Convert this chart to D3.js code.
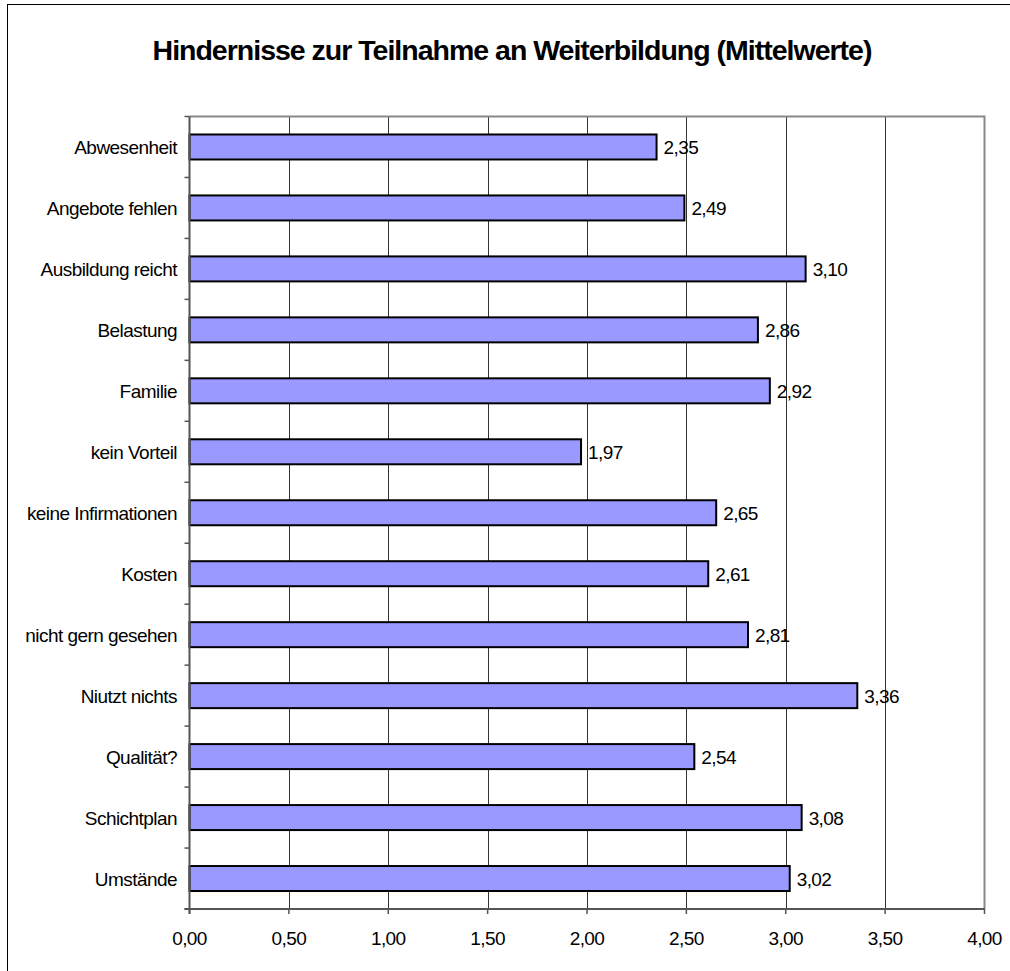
<!DOCTYPE html>
<html>
<head>
<meta charset="utf-8">
<script src="https://cdn.jsdelivr.net/npm/d3@7"></script>
<style>
  html, body { margin: 0; padding: 0; background: #fff; overflow: hidden; }
  svg { display: block; }
  svg text { font-family: Arial, "Liberation Sans", sans-serif; fill: #000; }
</style>
</head>
<body>
<div id="chart"></div>
<script>
const chartTitle = "Hindernisse zur Teilnahme an Weiterbildung (Mittelwerte)";
const categories = [
    "Abwesenheit", "Angebote fehlen", "Ausbildung reicht", "Belastung", "Familie",
    "kein Vorteil", "keine Infirmationen", "Kosten", "nicht gern gesehen",
    "Niutzt nichts", "Qualität?", "Schichtplan", "Umstände"
];
const values = [2.35, 2.49, 3.10, 2.86, 2.92, 1.97, 2.65, 2.61, 2.81, 3.36, 2.54, 3.08, 3.02];
const xTicks = [0, 0.5, 1, 1.5, 2, 2.5, 3, 3.5, 4];

const width = 1010;
const height = 971;
const plot = { left: 189.5, right: 984.5, top: 116.5, bottom: 909 };

const fmt = v => v.toFixed(2).replace('.', ',');

const svg = d3.select('#chart').append('svg')
    .attr('width', width)
    .attr('height', height);

// outer chart frame (cut off at right and bottom like the original)
svg.append('rect')
    .attr('x', 7.5).attr('y', 4.5)
    .attr('width', width + 20).attr('height', height + 20)
    .attr('fill', '#fff')
    .attr('stroke', '#000')
    .attr('stroke-width', 1);

svg.append('text')
    .attr('x', 512)
    .attr('y', 60)
    .attr('text-anchor', 'middle')
    .style('font-size', '28.5px')
    .style('font-weight', 'bold')
    .style('letter-spacing', '-1px')
    .text(chartTitle);

const x = d3.scaleLinear()
    .domain([0, 4])
    .range([plot.left, plot.right]);

const y = d3.scaleBand()
    .domain(categories)
    .range([plot.top, plot.bottom])
    .paddingInner(0.59)
    .paddingOuter(0.295);

// vertical gridlines
svg.append('g')
    .selectAll('line')
    .data(xTicks.slice(1, -1))
    .enter().append('line')
    .attr('x1', d => Math.round(x(d)) + 0.5)
    .attr('x2', d => Math.round(x(d)) + 0.5)
    .attr('y1', plot.top)
    .attr('y2', plot.bottom)
    .attr('stroke', '#333')
    .attr('stroke-width', 1);

// plot border top/right
svg.append('path')
    .attr('d', `M${plot.left},${plot.top}H${plot.right}V${plot.bottom}`)
    .attr('fill', 'none')
    .attr('stroke', '#888')
    .attr('stroke-width', 2);

// bars
svg.append('g')
    .selectAll('rect')
    .data(categories)
    .enter().append('rect')
    .attr('x', x(0))
    .attr('y', d => y(d))
    .attr('width', (d, i) => x(values[i]) - x(0))
    .attr('height', y.bandwidth())
    .attr('fill', '#9999ff')
    .attr('stroke', '#000')
    .attr('stroke-width', 2);

// value labels
svg.append('g')
    .selectAll('text')
    .data(categories)
    .enter().append('text')
    .attr('x', (d, i) => x(values[i]) + 7)
    .attr('y', d => y(d) + y.bandwidth() / 2 + 7)
    .style('font-size', '19px')
    .style('letter-spacing', '-0.6px')
    .text((d, i) => fmt(values[i]));

// left axis
const step = y.step();
const yAxis = svg.append('g');
yAxis.append('line')
    .attr('x1', plot.left).attr('x2', plot.left)
    .attr('y1', plot.top).attr('y2', plot.bottom + 5)
    .attr('stroke', '#555').attr('stroke-width', 2);
yAxis.selectAll('.ytick')
    .data(d3.range(categories.length + 1))
    .enter().append('line')
    .attr('class', 'ytick')
    .attr('x1', plot.left - 5).attr('x2', plot.left)
    .attr('y1', i => plot.top + i * step)
    .attr('y2', i => plot.top + i * step)
    .attr('stroke', '#555').attr('stroke-width', 1.5);
yAxis.selectAll('text')
    .data(categories)
    .enter().append('text')
    .attr('x', 177)
    .attr('y', d => y(d) + y.bandwidth() / 2 + 7)
    .attr('text-anchor', 'end')
    .style('font-size', '19px')
    .style('letter-spacing', '-0.55px')
    .text(d => d);

// bottom axis
const xAxis = svg.append('g');
xAxis.append('line')
    .attr('x1', plot.left - 5).attr('x2', plot.right)
    .attr('y1', plot.bottom).attr('y2', plot.bottom)
    .attr('stroke', '#555').attr('stroke-width', 2);
xAxis.selectAll('.xtick')
    .data(xTicks)
    .enter().append('line')
    .attr('class', 'xtick')
    .attr('x1', d => x(d)).attr('x2', d => x(d))
    .attr('y1', plot.bottom).attr('y2', plot.bottom + 5)
    .attr('stroke', '#555').attr('stroke-width', 1.5);
xAxis.selectAll('text')
    .data(xTicks)
    .enter().append('text')
    .attr('x', d => x(d))
    .attr('y', plot.bottom + 36)
    .attr('text-anchor', 'middle')
    .style('font-size', '19px')
    .style('letter-spacing', '-0.6px')
    .text(d => fmt(d));
</script>
</body>
</html>
